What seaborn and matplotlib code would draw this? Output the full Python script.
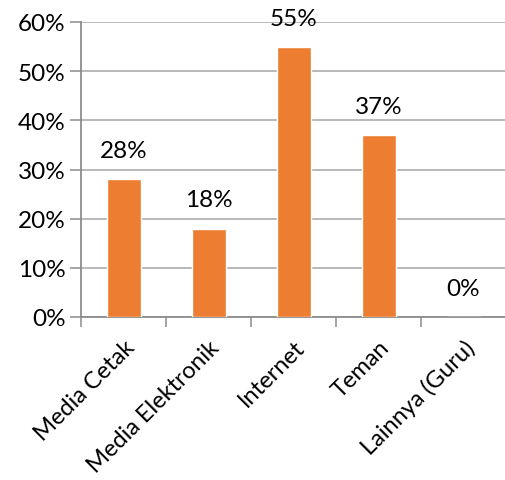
import matplotlib
matplotlib.use("Agg")
import matplotlib.pyplot as plt
import seaborn as sns
import pandas as pd

categories = ["Media Cetak", "Media Elektronik", "Internet", "Teman", "Lainnya (Guru)"]
values = [0.28, 0.18, 0.55, 0.37, 0.00]
y_ticks = [0.0, 0.1, 0.2, 0.3, 0.4, 0.5, 0.6]
y_tick_labels = ["0%", "10%", "20%", "30%", "40%", "50%", "60%"]

sns.set_theme(style="white")
plt.rcParams["font.family"] = ["Lato", "DejaVu Sans"]

df = pd.DataFrame({"kategori": categories, "persen": values})

fig = plt.figure(figsize=(5.05, 4.81), dpi=100)
ax = fig.add_axes([81 / 505, 1 - 318 / 481, 425 / 505, (318 - 23) / 481])

bar_color = "#ED7D31"
sns.barplot(data=df, x="kategori", y="persen", color=bar_color, width=0.4,
            saturation=1, ax=ax, zorder=3)

ax.set_xlim(-0.5, len(categories) - 0.5)
ax.set_ylim(0, 0.6)
ax.set_yticks(y_ticks)
ax.set_yticklabels(y_tick_labels, fontsize=17.5, color="#000000")
ax.set_xlabel("")
ax.set_ylabel("")

for side in ["top", "right"]:
    ax.spines[side].set_visible(False)
for side in ["left", "bottom"]:
    ax.spines[side].set_color("#8C8C8C")
    ax.spines[side].set_linewidth(1.3)

# y tick marks pointing outwards
ax.tick_params(axis="y", which="major", left=True, length=8, width=1.1,
               color="#8C8C8C", pad=3)

# category ticks sit between bars
ax.set_xticks([i - 0.5 for i in range(len(categories) + 1)], minor=False)
ax.set_xticklabels([])
ax.tick_params(axis="x", which="major", bottom=True, length=7, width=1.1,
               color="#8C8C8C")
ax.set_xticks(range(len(categories)), minor=True)
ax.set_xticklabels(categories, minor=True, rotation=45, ha="right",
                   rotation_mode="anchor", fontsize=17, color="#000000")
ax.tick_params(axis="x", which="minor", length=0, pad=14)

# horizontal gridlines
ax.set_axisbelow(True)
ax.grid(False, axis="x")
ax.grid(True, axis="y", which="major", color="#A6A6A6", linewidth=1.1)

# value labels above each bar
for i, v in enumerate(values):
    ax.annotate(f"{round(v * 100)}%", xy=(i, v), xytext=(0, 13),
                textcoords="offset points", ha="center", va="bottom",
                fontsize=17.5, color="#000000")

fig.savefig("out.png", dpi=100)
